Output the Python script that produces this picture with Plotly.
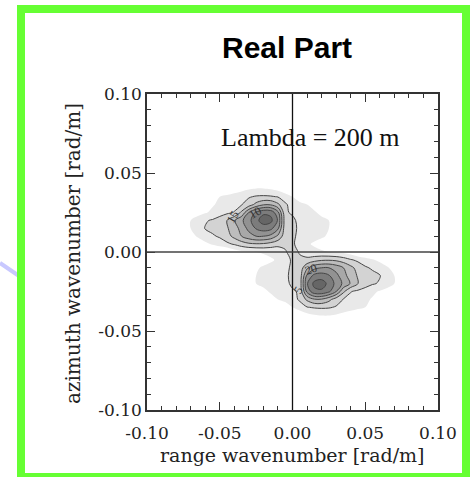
import plotly.graph_objects as go

# ---------------- data ----------------
k_range = [-0.075, -0.070, -0.065, -0.060, -0.055, -0.050, -0.045, -0.040, -0.035, -0.030,
           -0.025, -0.020, -0.015, -0.010, -0.005, 0.000, 0.005, 0.010, 0.015, 0.020,
           0.025, 0.030, 0.035, 0.040, 0.045, 0.050, 0.055, 0.060, 0.065, 0.070, 0.075]
k_azimuth = [-0.045, -0.040, -0.035, -0.030, -0.025, -0.020, -0.015, -0.010, -0.005, 0.000,
             0.005, 0.010, 0.015, 0.020, 0.025, 0.030, 0.035, 0.040, 0.045]

# spectrum (real part), rows follow k_azimuth, columns follow k_range
spectrum = [
    [0]*31,
    [0]*15 + [0.2, 0.4, 0.7, 0.95, 1.05, 1.05, 0.9, 0.7, 0.5, 0.3, 0, 0, 0, 0, 0, 0],
    [0]*13 + [0.3, 0.6, 1.0, 1.4, 1.95, 2.1, 2.15, 2.1, 1.9, 1.6, 1.4, 1.2, 1.0, 0.7, 0.4, 0, 0, 0],
    [0]*10 + [0.1, 0.4, 0.7, 1.0, 1.2, 1.5, 2.2, 3.2, 3.9, 3.9, 3.3, 2.5, 1.95, 1.7, 1.4, 1.2, 0.9, 0.6, 0.3, 0, 0],
    [0]*9 + [0.2, 0.5, 0.8, 1.1, 1.3, 1.4, 1.8, 2.2, 5.3, 6.7, 6.8, 6.2, 5.0, 3.2, 2.05, 1.8, 1.5, 1.2, 0.9, 0.6, 0.3, 0],
    [0]*8 + [0.2, 0.6, 1.0, 1.2, 1.3, 1.4, 1.6, 2.3, 2.4, 5.9, 7.3, 7.5, 6.7, 5.7, 4.8, 3.9, 3.0, 2.5, 2.1, 1.9, 1.5, 1.0, 0.5],
    [0]*8 + [0.2, 0.6, 1.0, 1.2, 1.3, 1.4, 1.7, 2.4, 2.4, 5.2, 6.3, 6.5, 6.1, 5.3, 4.4, 3.5, 2.9, 2.6, 2.3, 2.05, 1.6, 1.0, 0.5],
    [0]*8 + [0.2, 0.5, 0.9, 1.1, 1.2, 1.3, 1.6, 2.3, 2.4, 3.8, 4.7, 5.0, 5.0, 4.6, 4.0, 3.3, 2.6, 2.15, 1.85, 1.5, 1.1, 0.7, 0.3],
    [0]*9 + [0.1, 0.4, 0.7, 0.9, 1.1, 1.5, 2.2, 2.2, 2.3, 2.6, 2.85, 2.9, 2.8, 2.5, 2.1, 1.8, 1.4, 1.1, 0.8, 0.5, 0.2, 0],
    [0]*7 + [0.5, 0.8, 0.9, 1.0, 1.1, 1.2, 1.4, 1.9, 2.4, 1.9, 1.4, 1.2, 1.1, 1.0, 0.9, 0.8, 0.5] + [0]*7,
    [0, 0.2, 0.5, 0.8, 1.1, 1.4, 1.8, 2.1, 2.5, 2.8, 2.9, 2.85, 2.6, 2.3, 2.2, 2.2, 1.5, 1.1, 0.9, 0.7, 0.4, 0.1] + [0]*9,
    [0.3, 0.7, 1.1, 1.5, 1.85, 2.15, 2.6, 3.3, 4.0, 4.6, 5.0, 5.0, 4.7, 3.8, 2.4, 2.3, 1.6, 1.3, 1.2, 1.1, 0.9, 0.5, 0.2] + [0]*8,
    [0.5, 1.0, 1.6, 2.05, 2.3, 2.6, 2.9, 3.5, 4.4, 5.3, 6.1, 6.5, 6.3, 5.2, 2.4, 2.4, 1.7, 1.4, 1.3, 1.2, 1.0, 0.6, 0.2] + [0]*8,
    [0.5, 1.0, 1.5, 1.9, 2.1, 2.5, 3.0, 3.9, 4.8, 5.7, 6.7, 7.5, 7.3, 5.9, 2.4, 2.3, 1.6, 1.4, 1.3, 1.2, 1.0, 0.6, 0.2] + [0]*8,
    [0, 0.3, 0.6, 0.9, 1.2, 1.5, 1.8, 2.05, 3.2, 5.0, 6.2, 6.8, 6.7, 5.3, 2.2, 1.8, 1.4, 1.3, 1.1, 0.8, 0.5, 0.2] + [0]*9,
    [0, 0, 0.3, 0.6, 0.9, 1.2, 1.4, 1.7, 1.95, 2.5, 3.3, 3.9, 3.9, 3.2, 2.2, 1.5, 1.2, 1.0, 0.7, 0.4, 0.1] + [0]*10,
    [0, 0, 0, 0.4, 0.7, 1.0, 1.2, 1.4, 1.6, 1.9, 2.1, 2.15, 2.1, 1.95, 1.4, 1.0, 0.6, 0.3] + [0]*13,
    [0, 0, 0, 0, 0, 0, 0.3, 0.5, 0.7, 0.9, 1.05, 1.05, 0.95, 0.7, 0.4, 0.2] + [0]*15,
    [0]*31,
]

tick_vals = [-0.10, -0.05, 0.00, 0.05, 0.10]
tick_text = ["-0.10", "-0.05", "0.00", "0.05", "0.10"]

label_text = ["15", "10", "20", "5"]
label_x = [-0.041, -0.026, 0.013, 0.004]
label_y = [0.022, 0.025, -0.011, -0.024]
label_angle = [-60, -30, -20, -60]

title_text = "Real Part"
note_text = "Lambda = 200 m"
x_title = "range wavenumber [rad/m]"
y_title = "azimuth wavenumber [rad/m]"

# ---------------- figure ----------------
W, H = 473, 477
L, R, T, B = 147, 35, 94, 67
PW, PH = W - L - R, H - T - B


def px(xp):
    return (xp - L) / PW


def py(yp):
    return (H - B - yp) / PH


gray_scale = [[0.0, "#ffffff"], [1.0, "#666666"]]

fig = go.Figure()
fig.add_trace(go.Contour(
    x=k_range, y=k_azimuth, z=spectrum,
    contours=dict(start=1, end=7, size=1, coloring="fill"),
    colorscale=gray_scale, showscale=False,
    line=dict(width=0, smoothing=1.0),
    hoverinfo="skip",
))
fig.add_trace(go.Contour(
    x=k_range, y=k_azimuth, z=spectrum,
    contours=dict(start=2, end=7, size=1, coloring="none"),
    showscale=False,
    line=dict(width=1, color="#454545", smoothing=1.0),
    hoverinfo="skip",
))

axis_common = dict(
    range=[-0.1, 0.1], tickmode="array", tickvals=tick_vals, ticktext=tick_text,
    ticks="inside", ticklen=8, tickwidth=1, tickcolor="#333333",
    minor=dict(tickmode="linear", tick0=0, dtick=0.01, ticks="inside", ticklen=4,
               tickwidth=1, tickcolor="#333333"),
    showline=True, linecolor="#333333", linewidth=1.5, mirror="ticks",
    showgrid=False, zeroline=False,
    tickfont=dict(family="DejaVu Serif", size=17, color="#222222"),
)
fig.update_xaxes(**axis_common, ticklabelstandoff=7)
fig.update_yaxes(**axis_common, ticklabelstandoff=0)

shapes = [
    dict(type="line", xref="paper", yref="paper", x0=px(0), y0=py(263), x1=px(22), y1=py(278),
         line=dict(color="#c8c8ff", width=4), layer="above"),
    dict(type="rect", xref="paper", yref="paper", x0=px(21), y0=py(477), x1=px(466), y1=py(9),
         line=dict(color="#66ff33", width=8), layer="above"),
    dict(type="line", xref="x", yref="y", x0=0, x1=0, y0=-0.1, y1=0.1,
         line=dict(color="#111111", width=1.3), layer="above"),
    dict(type="line", xref="x", yref="y", x0=-0.1, x1=0.1, y0=0, y1=0,
         line=dict(color="#444444", width=1.6), layer="above"),
]

center = dict(xanchor="center", yanchor="middle", showarrow=False)
annotations = [
    dict(text="<b>" + title_text + "</b>", xref="paper", yref="paper", x=px(287), y=py(48),
         font=dict(family="Liberation Sans", size=30, color="#000000"), **center),
    dict(text=note_text, xref="paper", yref="paper", x=px(310), y=py(137),
         font=dict(family="Liberation Serif", size=26, color="#111111"), **center),
    dict(text=x_title, xref="paper", yref="paper", x=0.5, y=py(455),
         font=dict(family="DejaVu Serif", size=19, color="#222222"), **center),
    dict(text=y_title, xref="paper", yref="paper", x=px(73), y=py(254), textangle=-90,
         font=dict(family="DejaVu Serif", size=20, color="#222222"), **center),
]
for t, lx, ly, ang in zip(label_text, label_x, label_y, label_angle):
    annotations.append(dict(text=t, x=lx, y=ly, xref="x", yref="y", textangle=ang,
                            font=dict(family="Liberation Serif", size=12, color="#333333"),
                            **center))

fig.update_layout(
    width=W, height=H, margin=dict(l=L, r=R, t=T, b=B),
    paper_bgcolor="#ffffff", plot_bgcolor="#ffffff",
    shapes=shapes, annotations=annotations, showlegend=False,
)

fig.write_html("out.html", post_script="document.body.style.margin='0';",
               config={"displayModeBar": False})
